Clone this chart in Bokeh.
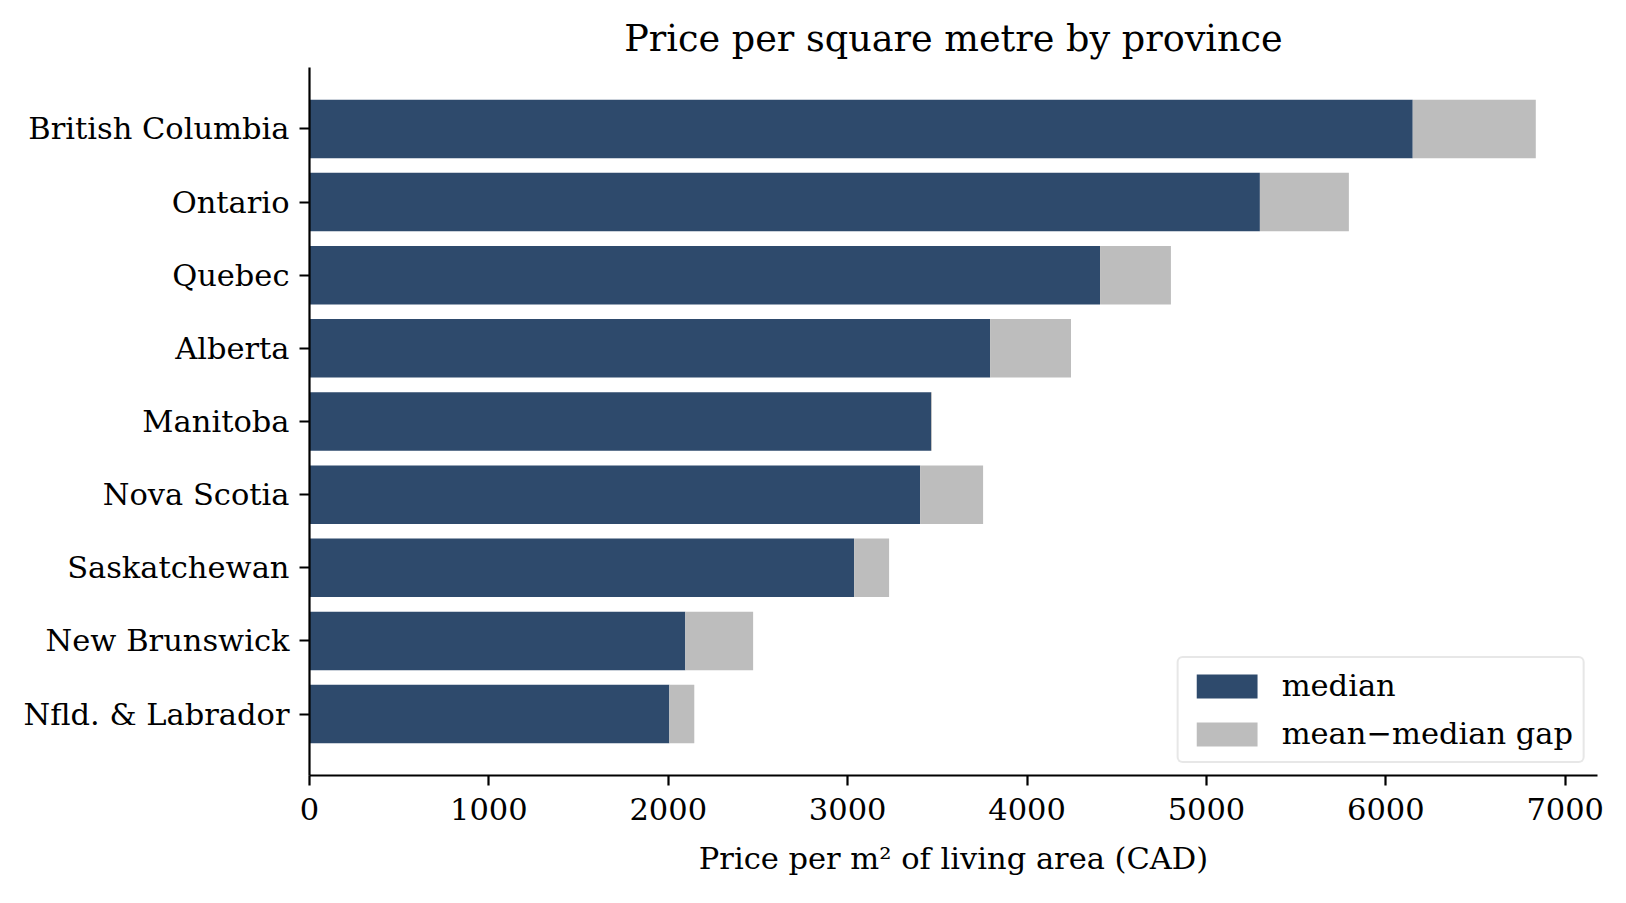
from bokeh.plotting import figure
from bokeh.models import Range1d, FactorRange, Legend, LegendItem, SingleIntervalTicker
from bokeh.embed import file_html
from bokeh.resources import INLINE

provinces = ["British Columbia", "Ontario", "Quebec", "Alberta", "Manitoba",
             "Nova Scotia", "Saskatchewan", "New Brunswick", "Nfld. & Labrador"]
median = [6150, 5298, 4407, 3794, 3465, 3404, 3036, 2095, 2006]
mean = [6836, 5794, 4802, 4245, 3470, 3755, 3231, 2473, 2145]

FONT = "DejaVu Serif"
NAVY = "#2e4a6c"
GREY = "#bdbdbd"

W, H = 1610, 887
p = figure(width=W, height=H, output_backend="svg", toolbar_location=None,
           y_range=FactorRange(factors=provinces[::-1], range_padding=0.34,
                               range_padding_units="absolute"),
           x_range=Range1d(0, 7180),
           min_border_left=309, min_border_right=13, min_border_top=67,
           min_border_bottom=112)

r1 = p.hbar(y=provinces, left=0, right=median, height=0.8, fill_color=NAVY, line_color=None)
r2 = p.hbar(y=provinces, left=median, right=mean, height=0.8, fill_color=GREY, line_color=None)

p.title.text = "Price per square metre by province"
p.title.text_font = FONT
p.title.text_font_size = "36.6px"
p.title.text_font_style = "normal"
p.title.align = "center"
p.title.text_color = "black"
p.title.standoff = 16

p.xgrid.visible = False
p.ygrid.visible = False
p.outline_line_color = None

for ax in (p.xaxis[0], p.yaxis[0]):
    ax.axis_line_color = "black"
    ax.axis_line_width = 2.2
    ax.major_tick_line_color = "black"
    ax.major_tick_line_width = 2.2
    ax.major_tick_out = 10
    ax.major_tick_in = 0
    ax.minor_tick_line_color = None
    ax.major_label_text_font = FONT
    ax.major_label_text_font_size = "30.5px"
    ax.major_label_text_color = "black"

p.xaxis.major_label_standoff = 12
p.yaxis.major_label_standoff = 10
p.xaxis.ticker = SingleIntervalTicker(interval=1000)
p.xaxis.axis_label = "Price per m\u00b2 of living area (CAD)"
p.xaxis.axis_label_text_font = FONT
p.xaxis.axis_label_text_font_size = "30.5px"
p.xaxis.axis_label_text_font_style = "normal"
p.xaxis.axis_label_text_color = "black"
p.xaxis.axis_label_standoff = 18

legend = Legend(items=[LegendItem(label="median", renderers=[r1]),
                       LegendItem(label="mean\u2212median gap", renderers=[r2])],
                location="bottom_right")
legend.label_text_font = FONT
legend.label_text_font_size = "30.5px"
legend.label_text_color = "black"
legend.glyph_width = 76
legend.glyph_height = 30
legend.label_standoff = 17
legend.spacing = 13
legend.padding = 10
legend.margin = 12
legend.border_line_color = "#d0d0d0"
legend.border_line_width = 2
legend.border_radius = 6
legend.background_fill_alpha = 0.8
p.add_layout(legend)

open("out.html", "w").write(file_html(p, INLINE))
